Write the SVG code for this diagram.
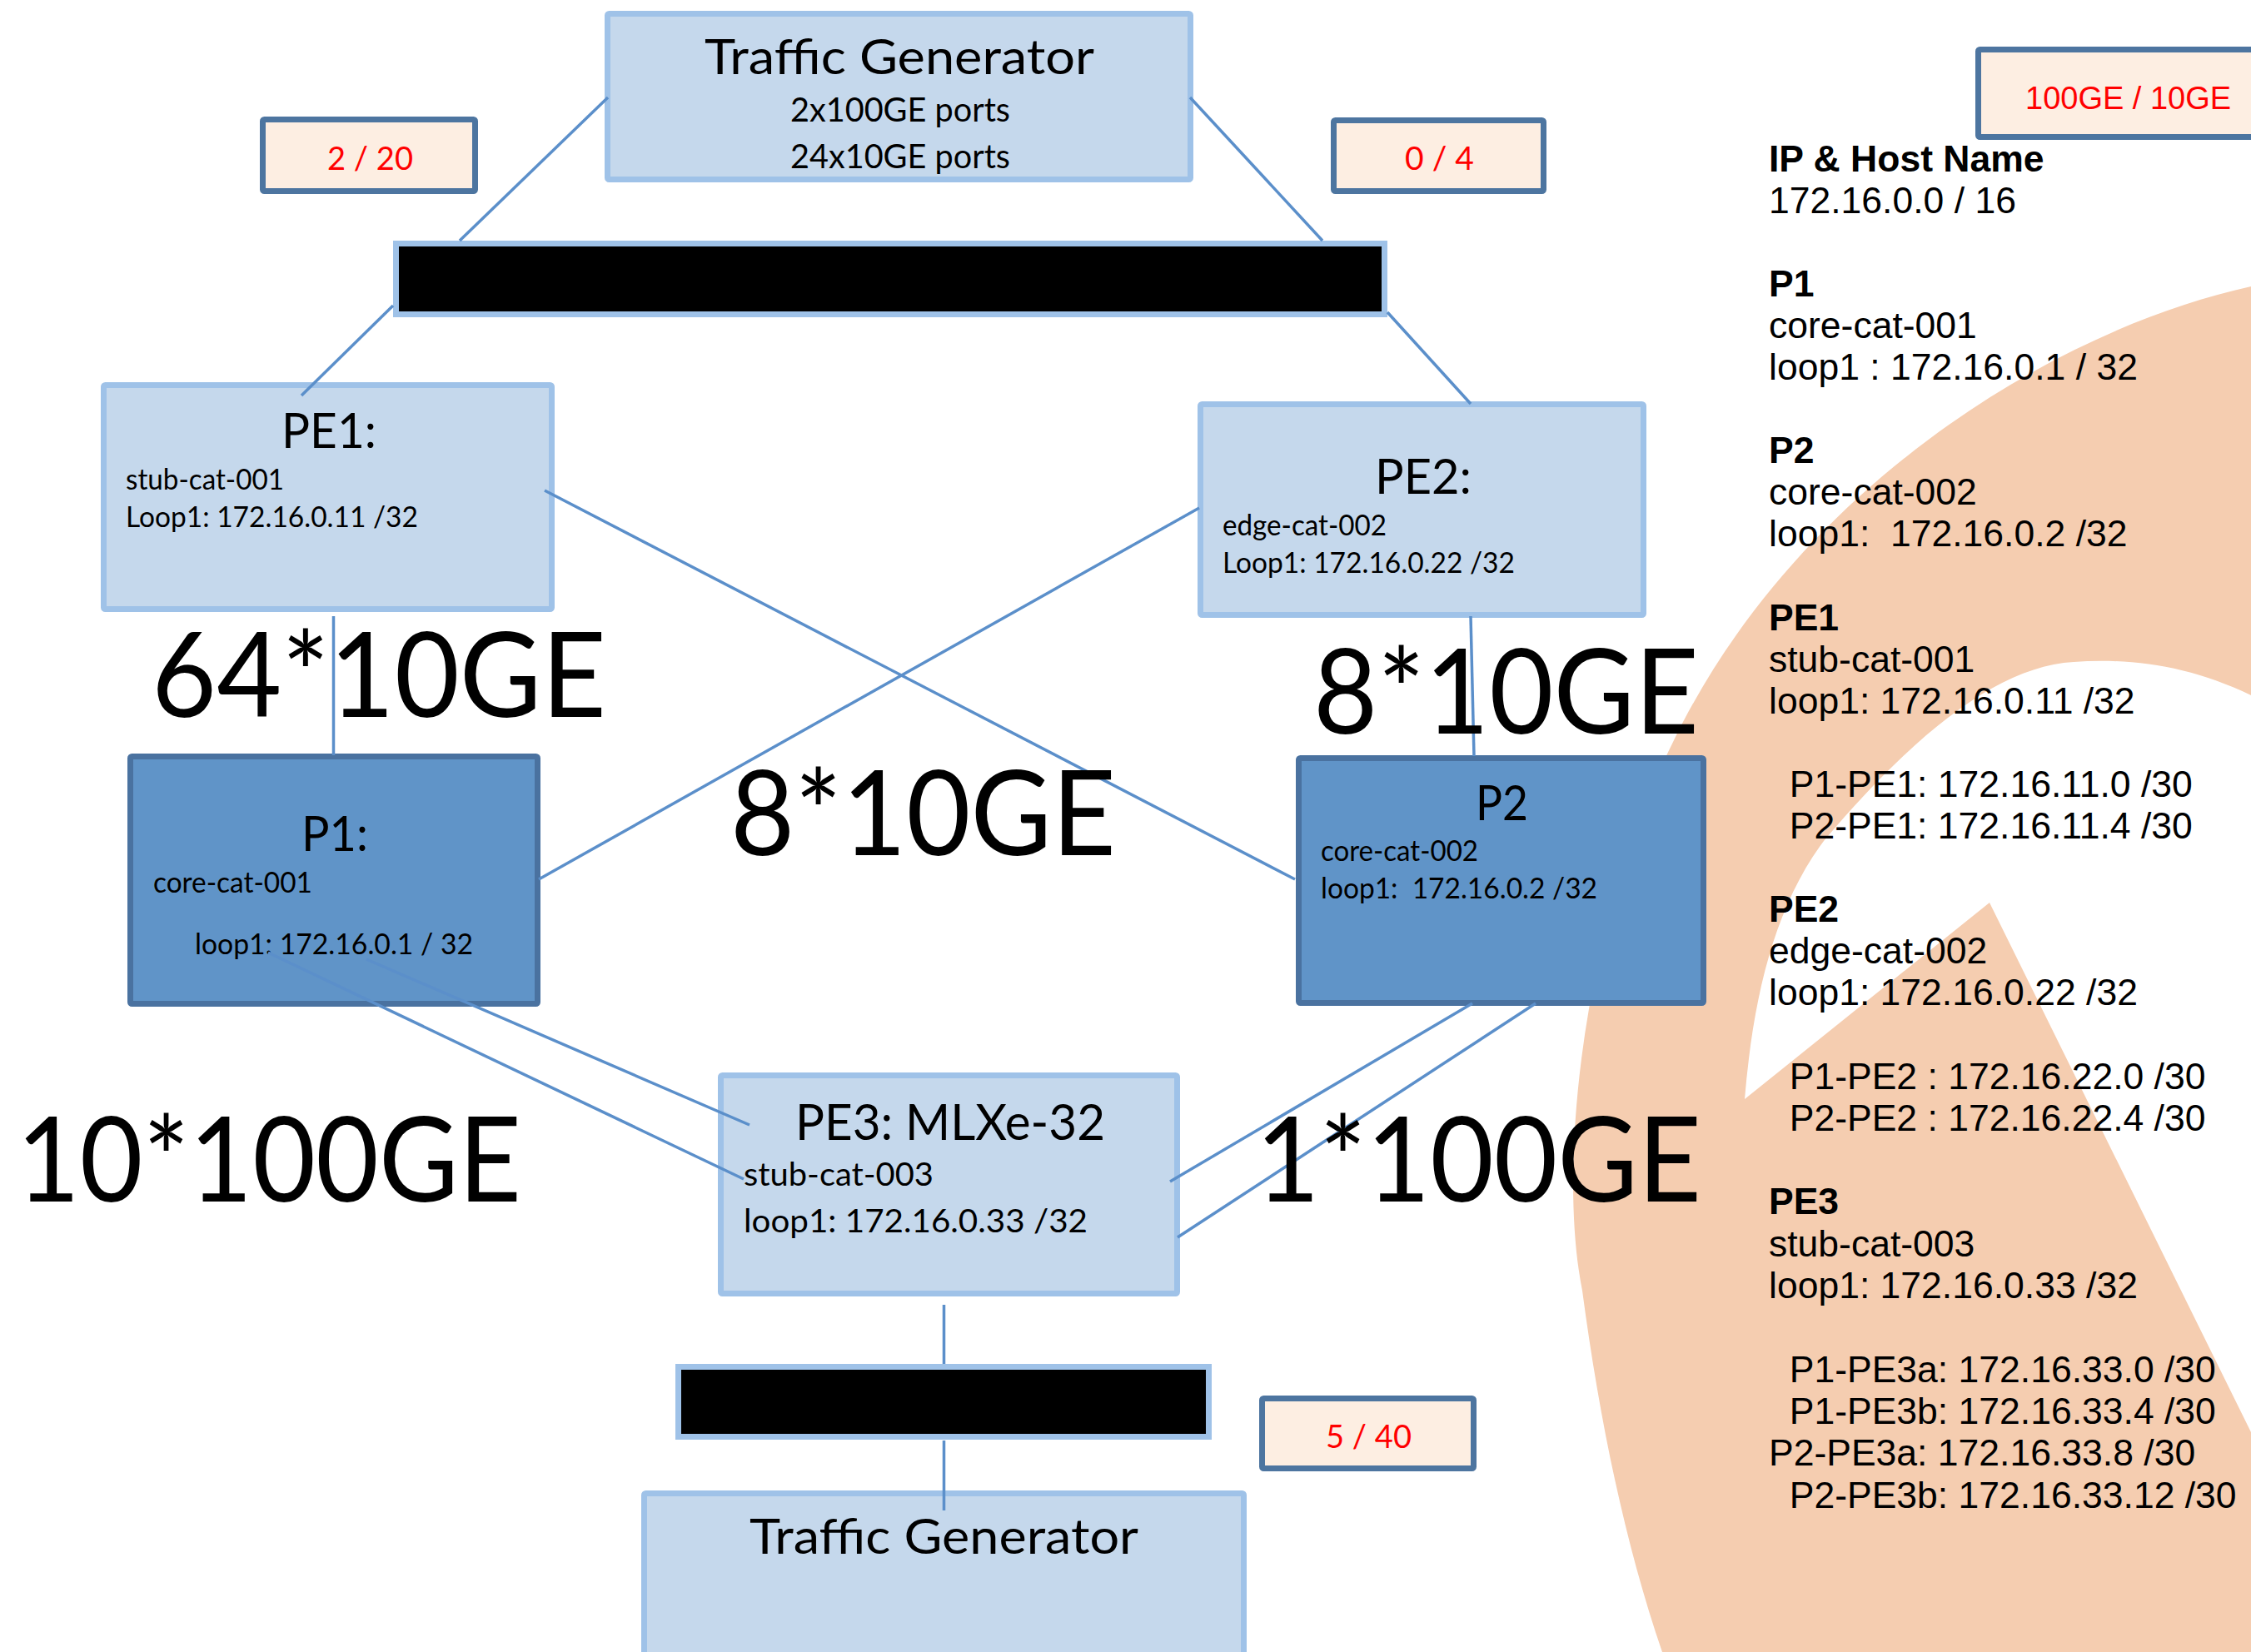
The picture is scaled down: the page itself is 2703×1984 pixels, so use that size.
<svg xmlns="http://www.w3.org/2000/svg" width="2703" height="1984" viewBox="0 0 2703 1984">
  <style>
    .lite { fill: #c5d8ec; stroke: #9fc2e8; stroke-width: 7; }
    .dark { fill: #6094c8; stroke: #4a72a0; stroke-width: 7; }
    .bar { fill: #000000; stroke: #9fc2e8; stroke-width: 7; }
    .tag { fill: #fdeee2; stroke: #4d75a0; stroke-width: 7; }
    .wire { stroke: #5b8fca; stroke-width: 3.5; fill: none; stroke-linecap: butt; }
    .cal { font-family: Lato, "Open Sans", "DejaVu Sans", sans-serif; fill: #000000; }
    .title { font-size: 58px; }
    .sub { font-size: 40px; }
    .small { font-size: 34px; }
    .mid { font-size: 39px; }
    .red { font-size: 38px; fill: #ff0000; }
    .big { font-size: 142px; }
    .list { font-family: "Liberation Sans", Arial, sans-serif; font-size: 44.5px; fill: #000000; white-space: pre; }
    .bold { font-weight: bold; }
  </style>

  <rect x="0" y="0" width="2703" height="1984" fill="#ffffff"/>

  <!-- peach logo watermark behind the right-hand side -->
  <path fill="#f5cdb0" fill-rule="evenodd" d="M2703,344 C2450,400 2150,600 2010,889 C1900,1110 1870,1400 1900,1550 C1920,1700 1950,1850 1996,1984 L2703,1984 Z M2703,835 C2630,800 2560,790 2490,795 C2400,800 2300,880 2190,1010 C2130,1090 2105,1200 2095,1320 L2389,1084 L2703,1720 Z"/>

  <!-- traffic generator, top -->
  <g id="tg-top">
    <rect class="lite" x="729.5" y="16.5" width="700" height="199" rx="2"/>
    <text class="cal title" x="846" y="89" textLength="468" lengthAdjust="spacingAndGlyphs">Traffic Generator</text>
    <text class="cal sub" x="949" y="146" textLength="264" lengthAdjust="spacingAndGlyphs">2x100GE ports</text>
    <text class="cal sub" x="949" y="202" textLength="264" lengthAdjust="spacingAndGlyphs">24x10GE ports</text>
  </g>

  <!-- port count tags -->
  <g id="tag-2-20">
    <rect class="tag" x="315.5" y="143.5" width="255" height="86" rx="2"/>
    <text class="cal red" x="393" y="204" textLength="103" lengthAdjust="spacingAndGlyphs">2 / 20</text>
  </g>
  <g id="tag-0-4">
    <rect class="tag" x="1601.5" y="144.5" width="252" height="85" rx="2"/>
    <text class="cal red" x="1687" y="204" textLength="83" lengthAdjust="spacingAndGlyphs">0 / 4</text>
  </g>
  <g id="tag-5-40">
    <rect class="tag" x="1515.5" y="1679.5" width="254" height="84" rx="2"/>
    <text class="cal red" x="1592" y="1739" textLength="103" lengthAdjust="spacingAndGlyphs">5 / 40</text>
  </g>
  <g id="tag-legend">
    <rect class="tag" x="2375.5" y="59.5" width="400" height="105" rx="2"/>
    <text class="list" x="2432" y="131" style="fill:#ff0000;font-size:38px">100GE / 10GE</text>
  </g>

  <!-- switch bars -->
  <g id="bar-top">
    <rect class="bar" x="475.5" y="292.5" width="1187" height="85"/>
  </g>
  <g id="bar-bottom">
    <rect class="bar" x="814.5" y="1641.5" width="637" height="84"/>
  </g>

  <!-- PE1 -->
  <g id="pe1">
    <rect class="lite" x="124.5" y="462.5" width="538" height="269" rx="2"/>
    <text class="cal title" x="338" y="538" textLength="114" lengthAdjust="spacingAndGlyphs">PE1:</text>
    <text class="cal small" x="151" y="588" textLength="190" lengthAdjust="spacingAndGlyphs">stub-cat-001</text>
    <text class="cal small" x="151" y="633" textLength="351" lengthAdjust="spacingAndGlyphs">Loop1: 172.16.0.11 /32</text>
  </g>

  <!-- PE2 -->
  <g id="pe2">
    <rect class="lite" x="1441.5" y="485.5" width="532" height="253" rx="2"/>
    <text class="cal title" x="1651" y="593" textLength="116" lengthAdjust="spacingAndGlyphs">PE2:</text>
    <text class="cal small" x="1468" y="643" textLength="197" lengthAdjust="spacingAndGlyphs">edge-cat-002</text>
    <text class="cal small" x="1468" y="688" textLength="351" lengthAdjust="spacingAndGlyphs">Loop1: 172.16.0.22 /32</text>
  </g>

  <!-- P1 -->
  <g id="p1">
    <rect class="dark" x="156.5" y="908.5" width="489" height="297" rx="2"/>
    <text class="cal title" x="362" y="1022" textLength="80" lengthAdjust="spacingAndGlyphs">P1:</text>
    <text class="cal small" x="184" y="1072" textLength="191" lengthAdjust="spacingAndGlyphs">core-cat-001</text>
    <text class="cal small" x="234" y="1146" textLength="334" lengthAdjust="spacingAndGlyphs">loop1: 172.16.0.1 / 32</text>
  </g>

  <!-- P2 -->
  <g id="p2">
    <rect class="dark" x="1559.5" y="910.5" width="486" height="294" rx="2"/>
    <text class="cal title" x="1772" y="985" textLength="63" lengthAdjust="spacingAndGlyphs">P2</text>
    <text class="cal small" x="1586" y="1034" textLength="189" lengthAdjust="spacingAndGlyphs">core-cat-002</text>
    <text class="cal small" x="1586" y="1079" textLength="332" lengthAdjust="spacingAndGlyphs" style="white-space:pre">loop1:  172.16.0.2 /32</text>
  </g>

  <!-- PE3 -->
  <g id="pe3">
    <rect class="lite" x="865.5" y="1291.5" width="548" height="262" rx="2"/>
    <text class="cal title" x="955" y="1369" textLength="372" lengthAdjust="spacingAndGlyphs" style="font-size:60px">PE3: MLXe-32</text>
    <text class="cal mid" x="893" y="1424" textLength="228" lengthAdjust="spacingAndGlyphs">stub-cat-003</text>
    <text class="cal mid" x="893" y="1480" textLength="413" lengthAdjust="spacingAndGlyphs">loop1: 172.16.0.33 /32</text>
  </g>

  <!-- traffic generator, bottom -->
  <g id="tg-bottom">
    <rect class="lite" x="773.5" y="1793.5" width="720" height="260" rx="2"/>
    <text class="cal title" x="900" y="1866" textLength="467" lengthAdjust="spacingAndGlyphs">Traffic Generator</text>
  </g>

  <!-- links -->
  <g id="links">
    <line class="wire" x1="730" y1="117" x2="552" y2="289"/>
    <line class="wire" x1="472" y1="367" x2="362" y2="475"/>
    <line class="wire" x1="1429" y1="117" x2="1588" y2="289"/>
    <line class="wire" x1="1666" y1="375" x2="1766" y2="485"/>
    <line class="wire" x1="400.5" y1="740" x2="400.5" y2="907"/>
    <line class="wire" x1="654" y1="589" x2="1555" y2="1056"/>
    <line class="wire" x1="647" y1="1056" x2="1440" y2="610"/>
    <line class="wire" x1="1766" y1="740" x2="1770" y2="908"/>
    <line class="wire" x1="322" y1="1144" x2="893" y2="1416"/>
    <line class="wire" x1="440" y1="1152" x2="900" y2="1351"/>
    <line class="wire" x1="1768" y1="1205" x2="1405" y2="1419"/>
    <line class="wire" x1="1844" y1="1205" x2="1414" y2="1486"/>
    <line class="wire" x1="1133.5" y1="1567" x2="1133.5" y2="1638"/>
    <line class="wire" x1="1133.5" y1="1730" x2="1133.5" y2="1814"/>
  </g>

  <!-- link capacity labels -->
  <g id="capacity">
    <text class="cal big" x="182" y="861" textLength="546" lengthAdjust="spacingAndGlyphs">64*10GE</text>
    <text class="cal big" x="877" y="1027" textLength="463" lengthAdjust="spacingAndGlyphs">8*10GE</text>
    <text class="cal big" x="1577" y="881" textLength="463" lengthAdjust="spacingAndGlyphs">8*10GE</text>
    <text class="cal big" x="20" y="1443" textLength="606" lengthAdjust="spacingAndGlyphs">10*100GE</text>
    <text class="cal big" x="1508" y="1443" textLength="535" lengthAdjust="spacingAndGlyphs">1*100GE</text>
  </g>

  <!-- addressing plan -->
  <g id="address-plan">
    <text class="list bold" x="2124" y="206">IP &amp; Host Name</text>
    <text class="list" x="2124" y="256">172.16.0.0 / 16</text>
    <text class="list bold" x="2124" y="356">P1</text>
    <text class="list" x="2124" y="406">core-cat-001</text>
    <text class="list" x="2124" y="456">loop1 : 172.16.0.1 / 32</text>
    <text class="list bold" x="2124" y="556">P2</text>
    <text class="list" x="2124" y="606">core-cat-002</text>
    <text class="list" x="2124" y="656">loop1:  172.16.0.2 /32</text>
    <text class="list bold" x="2124" y="757">PE1</text>
    <text class="list" x="2124" y="807">stub-cat-001</text>
    <text class="list" x="2124" y="857">loop1: 172.16.0.11 /32</text>
    <text class="list" x="2124" y="957">  P1-PE1: 172.16.11.0 /30</text>
    <text class="list" x="2124" y="1007">  P2-PE1: 172.16.11.4 /30</text>
    <text class="list bold" x="2124" y="1107">PE2</text>
    <text class="list" x="2124" y="1157">edge-cat-002</text>
    <text class="list" x="2124" y="1207">loop1: 172.16.0.22 /32</text>
    <text class="list" x="2124" y="1308">  P1-PE2 : 172.16.22.0 /30</text>
    <text class="list" x="2124" y="1358">  P2-PE2 : 172.16.22.4 /30</text>
    <text class="list bold" x="2124" y="1458">PE3</text>
    <text class="list" x="2124" y="1509">stub-cat-003</text>
    <text class="list" x="2124" y="1559">loop1: 172.16.0.33 /32</text>
    <text class="list" x="2124" y="1660">  P1-PE3a: 172.16.33.0 /30</text>
    <text class="list" x="2124" y="1710">  P1-PE3b: 172.16.33.4 /30</text>
    <text class="list" x="2124" y="1760">P2-PE3a: 172.16.33.8 /30</text>
    <text class="list" x="2124" y="1811">  P2-PE3b: 172.16.33.12 /30</text>
  </g>
</svg>
